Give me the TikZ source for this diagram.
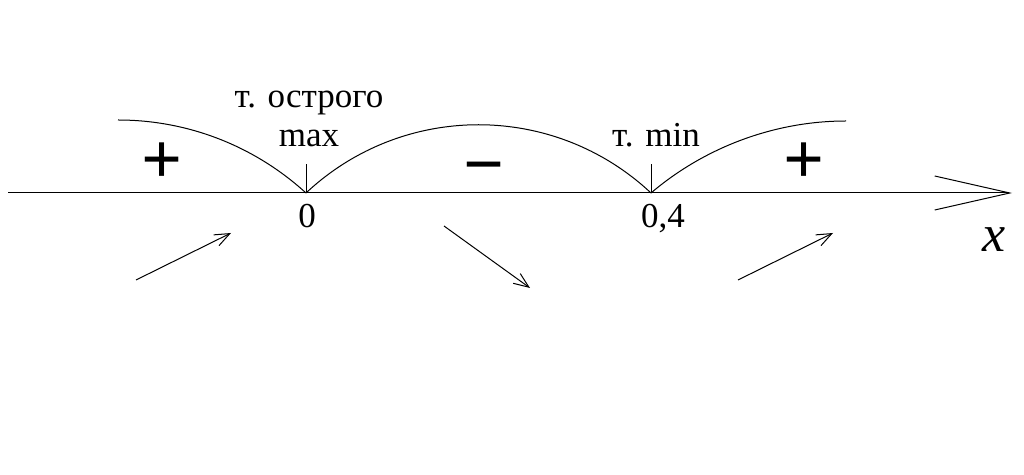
\documentclass[tikz,border=0pt]{standalone}
\usepackage{fontspec}
\setmainfont{Liberation Serif}
\usetikzlibrary{arrows.meta,positioning}

\begin{document}
\begin{tikzpicture}[x=0.5pt, y=-0.5pt, line width=0.5pt,
        axisarrow/.style={-{Straight Barb[length=37.5pt, width=17pt, line width=0.5pt]}},
        trend/.style={-{Straight Barb[length=7.5pt, width=6pt, line width=0.5pt]}},
        label/.style={inner sep=0pt, anchor=base, font=\fontsize{17.5}{20}\selectfont},
        sign/.style={inner sep=0pt, anchor=base, font=\fontsize{36}{40}\selectfont\bfseries}]

        \useasboundingbox (0,0) rectangle (1024,475);

        % axis and points
        \coordinate (xstart) at (8,193);
        \coordinate (xend) at (1012,193);
        \coordinate (p0) at (306,193);
        \coordinate (p4) at (651,193);
        \coordinate (t0) at (306,164);
        \coordinate (t4) at (651,164);
        \coordinate (lefttop) at (118,120);
        \coordinate (righttop) at (846,121);

        \draw[axisarrow] (xstart) -- (xend);
        \draw (p0) -- (t0);
        \draw (p4) -- (t4);

        % arcs over the intervals
        \draw (lefttop) .. controls (188,120) and (254.5,146) .. (p0);
        \draw (p0) .. controls (403,102) and (554,102) .. (p4);
        \draw (p4) .. controls (705,147) and (775,121) .. (righttop);

        % labels
        \node[label] (sharp) at (309,108) {т. острого};
        \node[label] (sharpmax) at (309,147) {max};
        \node[label] (minpt) at (656,147) {т. min};
        \node[label] (zero) at (307,228) {0};
        \node[label] (zerofour) at (663,228) {0,4};
        \node[inner sep=0pt, anchor=base, font=\fontsize{26}{30}\selectfont\itshape] (xname) at (994,252) {x};

        % signs
        \node[sign] (plusl) at (162,184) {+};
        \node[sign] (minus) at (484,189) {−};
        \node[sign] (plusr) at (804,184) {+};

        % monotonicity arrows
        \coordinate (a1s) at (136,280);
        \coordinate (a1e) at (231,233);
        \coordinate (a2s) at (444,226);
        \coordinate (a2e) at (530,288);
        \coordinate (a3s) at (738,280);
        \coordinate (a3e) at (833,233);
        \draw[trend] (a1s) -- (a1e);
        \draw[trend] (a2s) -- (a2e);
        \draw[trend] (a3s) -- (a3e);
    \end{tikzpicture}
\end{document}
